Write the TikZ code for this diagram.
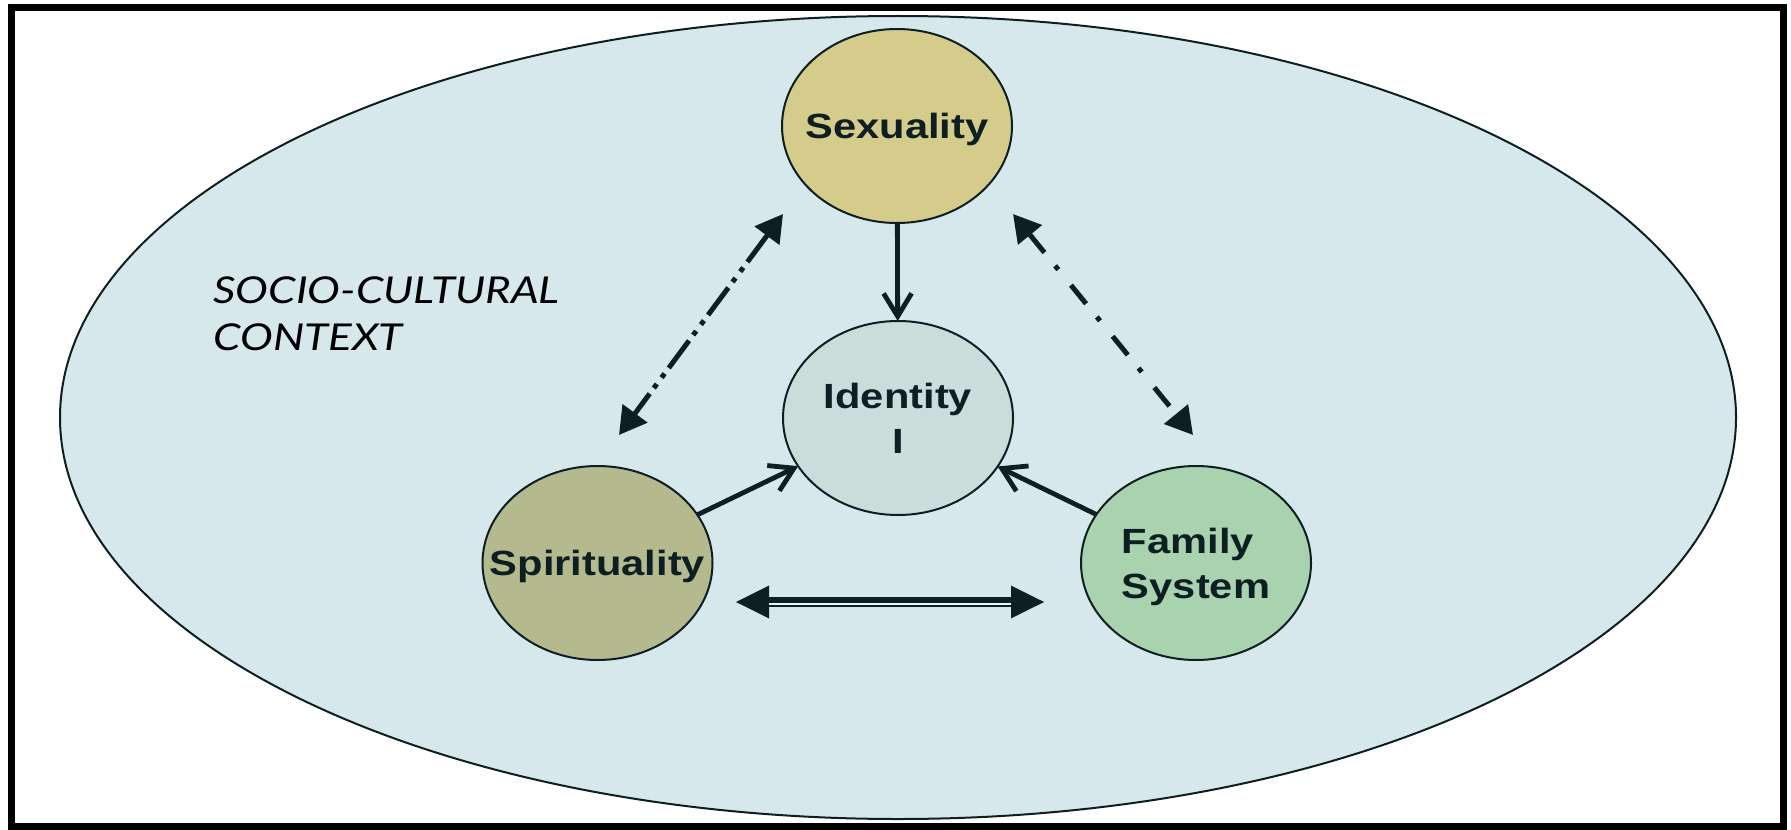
\documentclass[tikz,border=0pt]{standalone}
\usepackage{fontspec}
\setmainfont{Liberation Sans}
\newfontfamily\nodefont[FakeStretch=1.19]{Liberation Sans}
\newfontfamily\contextfont[FakeStretch=1.19]{Lato}
\usetikzlibrary{shapes.geometric,arrows.meta}

\definecolor{ink}{HTML}{0D1F23}
\definecolor{ctxfill}{HTML}{D7E8ED}
\definecolor{ctxlight}{HTML}{EEF5F7}
\definecolor{sexfill}{HTML}{D5CB8A}
\definecolor{idfill}{HTML}{CCDCDA}
\definecolor{spifill}{HTML}{B4B98E}
\definecolor{famfill}{HTML}{A8D3AE}

\tikzset{
  concept/.style={ellipse, draw=ink, line width=1pt, minimum width=115pt,
    minimum height=97pt, inner xsep=-70pt, inner ysep=0pt, outer sep=0pt,
    text=ink, text depth=0pt,
    font=\nodefont\bfseries\fontsize{17.5pt}{22.5pt}\selectfont},
  influence/.style={draw=ink, line width=2.4pt,
    -{Straight Barb[length=11.5pt, width=14pt, line width=2.4pt]}},
  mutual/.style={draw=ink, line width=2.5pt,
    arrows={Triangle[length=13.5pt,width=15pt]-Triangle[length=13.5pt,width=15pt]}},
  dashdotdot/.style={dash pattern=on 17pt off 3.5pt on 2.5pt off 4pt on 2.5pt off 3.5pt},
  dashdotted/.style={dash pattern=on 12pt off 8.5pt on 2.5pt off 10pt},
}

\begin{document}
\begin{tikzpicture}[x=0.5pt, y=-0.5pt]
  \useasboundingbox (0,0) rectangle (1791,829);
  \fill[white] (0,0) rectangle (1791,829);

  % surrounding context
  \node[ellipse, draw=ink, fill=ctxfill, line width=1pt, minimum width=838pt,
        minimum height=401.5pt, inner sep=0pt] (context) at (898,417.5) {};
  \node[anchor=base west, align=left, inner sep=0pt, text=black,
        font=\contextfont\itshape\fontsize{18.5pt}{23.5pt}\selectfont]
        (ctxlabel) at (213,350) {SOCIO-CULTURAL\\CONTEXT};

  % the four concepts
  \node[concept, fill=sexfill] (sex) at (897,126) {Sexuality};
  \node[concept, fill=idfill, align=center] (id) at (898,418) {Identity\\I};
  \node[concept, fill=spifill] (spi) at (597.5,563) {Spirituality};
  \node[concept, fill=famfill, align=left] (fam) at (1196,563) {Family\\System};

  % one-way influences on identity
  \draw[influence] (sex) -- (id);
  \draw[influence] (spi) -- (id);
  \draw[influence] (fam) -- (id);

  % two-way links between the outer concepts
  \coordinate (ssA) at (783,214);
  \coordinate (ssB) at (619,435);
  \coordinate (sfA) at (1013,214);
  \coordinate (sfB) at (1193,435);
  \coordinate (pfA) at (735,602);
  \coordinate (pfB) at (1045,602);

  \draw[mutual, dashdotdot] (ssA) -- (ssB);
  \draw[mutual, dashdotted] (sfA) -- (sfB);

  \draw[draw=ink, line width=5pt,
        arrows={Triangle[length=17pt,width=15pt]-Triangle[length=17pt,width=15pt]}]
        (pfA) -- (pfB);
  \draw[draw=ctxlight, line width=1pt]
        ([xshift=17pt,yshift=-1pt]pfA) -- ([xshift=-17pt,yshift=-1pt]pfB);

  % frame
  \draw[black, line width=3.5pt] (11,7.5) rectangle (1783,826);
\end{tikzpicture}
\end{document}
